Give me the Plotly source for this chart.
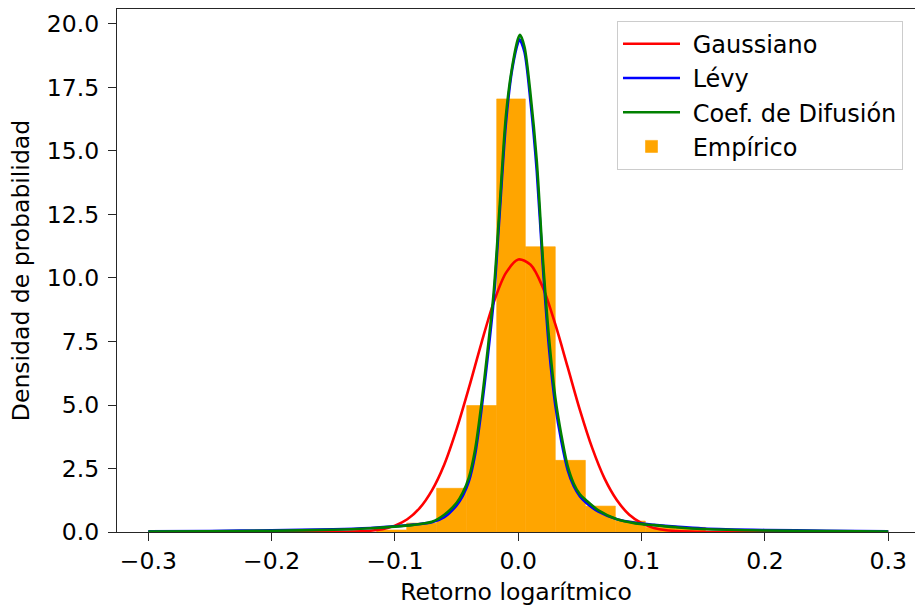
import plotly.graph_objects as go

# ---------------- data ----------------
BIN_EDGES = [-0.1148, -0.0905, -0.0662, -0.0418, -0.0175, 0.0057, 0.0300,
             0.0544, 0.0787, 0.1030, 0.1274, 0.1517]
EMPIRICO = [0.08, 0.35, 1.72, 4.98, 17.05, 11.23, 2.82, 1.02, 0.43, 0.18, 0.18]

GAUSS_X = [-0.30, -0.20, -0.15, -0.12, -0.11, -0.10, -0.09, -0.08, -0.07, -0.06,
           -0.05, -0.04, -0.03, -0.02, -0.01, 0.0, 0.01, 0.02, 0.03, 0.04, 0.05,
           0.06, 0.07, 0.08, 0.09, 0.10, 0.11, 0.12, 0.15, 0.20, 0.30]
GAUSS_Y = [0.0, 0.0, 0.005, 0.05, 0.11, 0.25, 0.50, 0.94, 1.64, 2.66,
           4.05, 5.68, 7.42, 9.03, 10.20, 10.73, 10.52, 9.62, 8.18, 6.50, 4.80,
           3.30, 2.10, 1.25, 0.68, 0.35, 0.16, 0.07, 0.005, 0.0, 0.0]

LEVY_X = [-0.30, -0.25, -0.20, -0.15, -0.12, -0.10, -0.085, -0.07, -0.06, -0.05,
          -0.045, -0.04, -0.035, -0.03, -0.025, -0.02, -0.015, -0.01, -0.005,
          0.0, 0.001, 0.005, 0.01, 0.015, 0.02, 0.025, 0.03, 0.035, 0.04, 0.045,
          0.05, 0.055, 0.065, 0.08, 0.095, 0.11, 0.13, 0.15, 0.20, 0.25, 0.30]
LEVY_Y = [0.03, 0.04, 0.07, 0.11, 0.16, 0.22, 0.29, 0.38, 0.58, 1.05,
          1.42, 2.00, 3.05, 4.75, 6.80, 9.10, 12.60, 16.10, 18.20,
          19.30, 19.40, 18.90, 16.90, 14.20, 10.40, 7.20, 5.00, 3.55, 2.45, 1.80,
          1.40, 1.15, 0.80, 0.50, 0.36, 0.28, 0.20, 0.14, 0.08, 0.05, 0.03]

DIFUS_X = [-0.30, -0.25, -0.20, -0.15, -0.12, -0.10, -0.085, -0.07, -0.06, -0.05,
           -0.045, -0.04, -0.035, -0.03, -0.025, -0.02, -0.015, -0.01, -0.005,
           0.0, 0.0014, 0.005, 0.01, 0.015, 0.02, 0.025, 0.03, 0.035, 0.04, 0.045,
           0.05, 0.055, 0.065, 0.08, 0.095, 0.11, 0.13, 0.15, 0.20, 0.25, 0.30]
DIFUS_Y = [0.02, 0.03, 0.05, 0.09, 0.15, 0.21, 0.28, 0.40, 0.68, 1.15,
           1.55, 2.15, 3.25, 5.00, 7.10, 9.40, 12.90, 16.40, 18.30,
           19.45, 19.57, 19.10, 17.20, 14.60, 10.70, 7.60, 5.30, 3.80, 2.60, 1.90,
           1.48, 1.25, 0.85, 0.50, 0.34, 0.27, 0.18, 0.12, 0.06, 0.04, 0.02]

SERIES_NAMES = ["Gaussiano", "Lévy", "Coef. de Difusión", "Empírico"]

X_TICKS = [-0.3, -0.2, -0.1, 0.0, 0.1, 0.2, 0.3]
X_TICK_TEXT = ["\u22120.3", "\u22120.2", "\u22120.1", "0.0", "0.1", "0.2", "0.3"]
Y_TICKS = [0.0, 2.5, 5.0, 7.5, 10.0, 12.5, 15.0, 17.5, 20.0]
Y_TICK_TEXT = ["0.0", "2.5", "5.0", "7.5", "10.0", "12.5", "15.0", "17.5", "20.0"]

# ---------------- figure ----------------
FONT = "DejaVu Sans"
FS = 23.5
FS_TITLE = 23.5
AX = "#262626"
ORANGE = "#FFA500"
PAD = "\u00a0"  # small gap between legend sample and its label

centers = [(a + b) / 2 for a, b in zip(BIN_EDGES[:-1], BIN_EDGES[1:])]
widths = [b - a for a, b in zip(BIN_EDGES[:-1], BIN_EDGES[1:])]

fig = go.Figure()
fig.add_trace(go.Bar(x=centers, y=EMPIRICO, width=widths, name=PAD + SERIES_NAMES[3],
                     marker=dict(color=ORANGE, line=dict(width=0.6, color=ORANGE)),
                     legendrank=4, legendgroup="e"))
fig.add_trace(go.Scatter(x=GAUSS_X, y=GAUSS_Y, mode="lines", name=PAD + SERIES_NAMES[0],
                         line=dict(color="#FF0000", width=2.6, shape="spline", smoothing=0.9),
                         legendrank=1, legendgroup="g"))
fig.add_trace(go.Scatter(x=LEVY_X, y=LEVY_Y, mode="lines", name=PAD + SERIES_NAMES[1],
                         line=dict(color="#0000FF", width=2.6, shape="spline", smoothing=0.8),
                         legendrank=2, legendgroup="l"))
fig.add_trace(go.Scatter(x=DIFUS_X, y=DIFUS_Y, mode="lines", name=PAD + SERIES_NAMES[2],
                         line=dict(color="#008000", width=2.6, shape="spline", smoothing=0.8),
                         legendrank=3, legendgroup="d"))

fig.update_layout(
    width=915, height=609,
    margin=dict(l=117, r=0, t=9, b=77, pad=0),
    plot_bgcolor="white", paper_bgcolor="white",
    font=dict(family=FONT, size=FS, color="black"),
    showlegend=True,
    legend=dict(x=(617 - 117) / 798, y=1 - (20.7 - 9) / 523, xanchor="left", yanchor="top",
                bgcolor="rgba(255,255,255,0.85)", bordercolor="#cccccc", borderwidth=1,
                font=dict(family=FONT, size=24, color="black"),
                traceorder="grouped", tracegroupgap=0, itemwidth=57),
    xaxis=dict(range=[-0.3254, 0.3217], tickmode="array", tickvals=X_TICKS,
               ticktext=X_TICK_TEXT, showgrid=False, zeroline=False,
               showline=True, linecolor=AX, linewidth=1.3, mirror=True,
               ticks="outside", ticklen=8, tickwidth=1.3, tickcolor=AX,
               tickfont=dict(size=FS),
               title=dict(text="Retorno logarítmico", standoff=9,
                          font=dict(size=FS_TITLE))),
    yaxis=dict(range=[0, 20.59], tickmode="array", tickvals=Y_TICKS,
               ticktext=Y_TICK_TEXT, showgrid=False, zeroline=False,
               showline=True, linecolor=AX, linewidth=1.3, mirror=False,
               ticks="outside", ticklen=8, tickwidth=1.3, tickcolor=AX,
               tickfont=dict(size=FS), ticklabelstandoff=4,
               title=dict(text="Densidad de probabilidad", standoff=10,
                          font=dict(size=FS_TITLE))),
)

fig.write_html("out.html")
